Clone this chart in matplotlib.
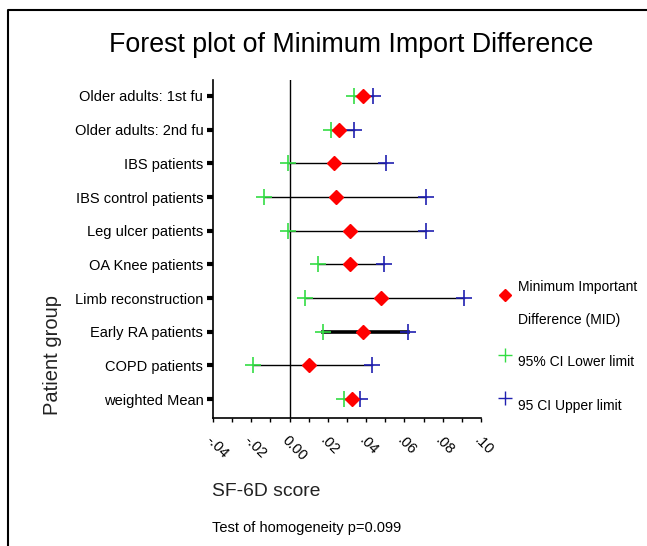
import matplotlib
matplotlib.use("Agg")
import matplotlib.pyplot as plt
from matplotlib.lines import Line2D
import numpy as np

plt.rcParams['font.family'] = ['Liberation Sans', 'DejaVu Sans']

groups = ["Older adults: 1st fu", "Older adults: 2nd fu", "IBS patients",
          "IBS control patients", "Leg ulcer patients", "OA Knee patients",
          "Limb reconstruction", "Early RA patients", "COPD patients",
          "weighted Mean"]
mid = [0.0385, 0.026, 0.023, 0.0245, 0.0317, 0.0317, 0.048, 0.0385, 0.0099, 0.0328]
ci_low = [0.0339, 0.0214, -0.001, -0.0135, -0.001, 0.0151, 0.0078, 0.0177, -0.0193, 0.0286]
ci_high = [0.0438, 0.0334, 0.0505, 0.0713, 0.0713, 0.0495, 0.0911, 0.062, 0.0432, 0.037]
xticks = [-0.04, -0.02, 0.0, 0.02, 0.04, 0.06, 0.08, 0.10]
xtick_labels = ["-.04", "-.02", "0.00", ".02", ".04", ".06", ".08", ".10"]

W, H = 647, 546
fig = plt.figure(figsize=(W / 100, H / 100), dpi=100)
ax = fig.add_axes([213 / W, 1 - 418 / H, (481 - 213) / W, (418 - 80) / H])

y = np.arange(len(groups))
green = "#33dd44"
blue = "#2020b0"

for i in y:
    lw = 2.6 if groups[i] == "Early RA patients" else 1.0
    ax.plot([ci_low[i], ci_high[i]], [i, i], color="black", lw=lw, zorder=2)
ax.plot(ci_low, y, ls="none", marker="+", ms=12, mew=1.2, color=green, zorder=3)
ax.plot(ci_high, y, ls="none", marker="+", ms=12, mew=1.2, color=blue, zorder=3)
ax.plot(mid, y, ls="none", marker="D", ms=7, color="red", mec="red", zorder=4)

ax.axvline(0, color="black", lw=1.0, zorder=1)

ax.set_xlim(-0.04, 0.10)
ax.set_ylim(9.56, -0.475)
ax.set_xticks(xticks)
ax.set_xticklabels(xtick_labels, rotation=-45, ha="left", va="top",
                   rotation_mode="anchor", fontsize=10.5)
ax.set_xticks(np.arange(-0.04, 0.1001, 0.01), minor=True)
ax.tick_params(axis="x", which="both", direction="out", length=3, width=1, pad=8)
ax.set_yticks(y)
ax.set_yticklabels(groups, fontsize=10.5)
ax.tick_params(axis="y", direction="out", length=4, width=3, pad=3)

for s in ["top", "right"]:
    ax.spines[s].set_visible(False)
for s in ["left", "bottom"]:
    ax.spines[s].set_linewidth(1.2)

fig.text(351 / W, 1 - 45 / H, "Forest plot of Minimum Import Difference",
         ha="center", va="center", fontsize=19.3)
fig.text(52 / W, 1 - 355 / H, "Patient group", rotation=90,
         ha="center", va="center", fontsize=14.5, color="#222222")
fig.text(212 / W, 1 - 492 / H, "SF-6D score", ha="left", va="center",
         fontsize=13.9, color="#222222")
fig.text(212 / W, 1 - 528 / H, "Test of homogeneity p=0.099", ha="left",
         va="center", fontsize=10.5)

# legend drawn by hand
leg = [("D", "red", 6, 295, ["Minimum Important", "Difference (MID)"], [287, 320]),
       ("+", green, 10, 355, ["95% CI Lower limit"], [362]),
       ("+", blue, 10, 398, ["95 CI Upper limit"], [406])]
for m, c, ms, my, texts, ty in leg:
    fig.add_artist(Line2D([505 / W], [1 - my / H], marker=m, ms=ms, color=c,
                          mec=c, ls="none", transform=fig.transFigure))
    for t, yy in zip(texts, ty):
        fig.text(518 / W, 1 - yy / H, t, ha="left", va="center", fontsize=10)

# outer frame
fig.add_artist(Line2D([8 / W, 8 / W, 1], [0, 1 - 10 / H, 1 - 10 / H],
                      color="black", lw=1.5, transform=fig.transFigure))

fig.savefig("out.png", dpi=100)
